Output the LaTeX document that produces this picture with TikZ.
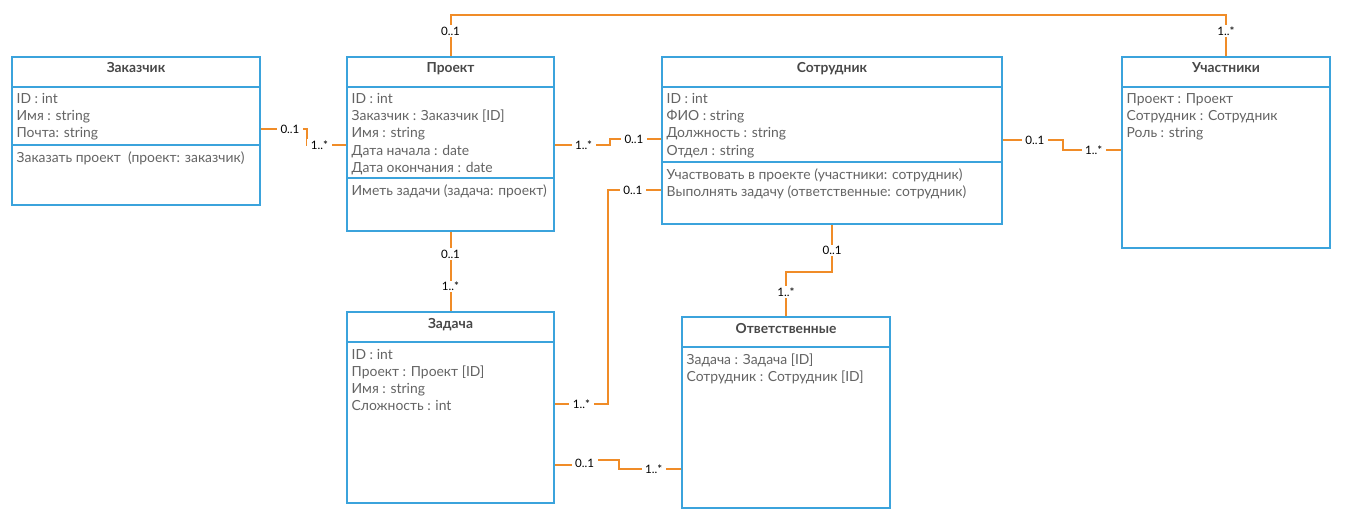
\documentclass[tikz,border=0pt]{standalone}
\usepackage{fontspec}
\setmainfont{Lato}
\definecolor{cblue}{RGB}{59,163,220}
\definecolor{corange}{RGB}{240,140,40}
\definecolor{ctext}{RGB}{100,100,100}
\definecolor{ctitle}{RGB}{72,72,72}
\newcommand\classlines[4]{%
  \foreach \t [count=\i] in {#4}
    \node[attr] (#3\i) at ([xshift=5.5pt,yshift={-(#2+17*(\i-1))*1pt}]#1.north west) {\t};}
\newcommand\classdiv[2]{%
  \draw[div] ([yshift=-#2pt]#1.north west) -- ([yshift=-#2pt]#1.north east);}
\tikzset{
  cls/.style={draw=cblue, line width=2pt, inner sep=0pt, anchor=north west, fill=white},
  div/.style={draw=cblue, line width=2pt},
  ttl/.style={anchor=base, font=\fontsize{13.8}{16}\selectfont\bfseries, text=ctitle, inner sep=0pt},
  attr/.style={anchor=base west, font=\fontsize{13.9}{16}\selectfont, text=ctext, inner sep=0pt},
  conn/.style={draw=corange, line width=2pt},
  mult/.style={fill=white, text=black, font=\fontsize{11.6}{13}\selectfont, inner xsep=3.5pt, inner ysep=1.5pt},
}
\begin{document}
\begin{tikzpicture}[x=1pt,y=-1pt]
\path[use as bounding box] (0,0) rectangle (1348,524);

% classes
\node[cls, minimum width=248, minimum height=148] (zak) at (11,56) {};
\node[cls, minimum width=207, minimum height=174] (proj) at (346,56) {};
\node[cls, minimum width=340, minimum height=167] (emp) at (661,56) {};
\node[cls, minimum width=208, minimum height=191] (part) at (1121,56) {};
\node[cls, minimum width=207, minimum height=191] (task) at (346,311) {};
\node[cls, minimum width=208, minimum height=191] (resp) at (681,316) {};

% dividers
\classdiv{zak}{31}\classdiv{zak}{89}
\classdiv{proj}{31}\classdiv{proj}{122}
\classdiv{emp}{31}\classdiv{emp}{106}
\classdiv{part}{31}
\classdiv{task}{31}
\classdiv{resp}{31}

% titles
\node[ttl] (zak-t) at ([yshift=-17pt]zak.north) {Заказчик};
\node[ttl] (proj-t) at ([yshift=-17pt]proj.north) {Проект};
\node[ttl] (emp-t) at ([yshift=-17pt]emp.north) {Сотрудник};
\node[ttl] (part-t) at ([yshift=-17pt]part.north) {Участники};
\node[ttl] (task-t) at ([yshift=-17pt]task.north) {Задача};
\node[ttl] (resp-t) at ([yshift=-17pt]resp.north) {Ответственные};

% attributes and operations
\classlines{zak}{48}{zak-a}{{ID : int},{Имя : string},{Почта: string}}
\classlines{zak}{106}{zak-m}{{Заказать проект\ \ (проект: заказчик)}}
\classlines{proj}{48}{proj-a}{{ID : int},{Заказчик : Заказчик [ID]},{Имя : string},{Дата начала : date},{Дата окончания : date}}
\classlines{proj}{139}{proj-m}{{Иметь задачи (задача: проект)}}
\classlines{emp}{48}{emp-a}{{ID : int},{ФИО : string},{Должность : string},{Отдел : string}}
\classlines{emp}{123}{emp-m}{{Участвовать в проекте (участники: сотрудник)},{Выполнять задачу (ответственные: сотрудник)}}
\classlines{part}{48}{part-a}{{Проект : Проект},{Сотрудник : Сотрудник},{Роль : string}}
\classlines{task}{48}{task-a}{{ID : int},{Проект : Проект [ID]},{Имя : string},{Сложность : int}}
\classlines{resp}{48}{resp-a}{{Задача : Задача [ID]},{Сотрудник : Сотрудник [ID]}}

% connectors
\draw[conn] ([yshift=-73pt]zak.north east) -- node[mult,pos=0.63]{0..1} ++(46,0) -- ++(0,16)
  -- node[mult,pos=0.32]{1..*} ([yshift=-89pt]proj.north west);
\draw[conn] ([yshift=-89pt]proj.north east) -- node[mult,pos=0.52]{1..*} ++(55,0) -- ++(0,-6)
  -- node[mult,pos=0.47]{0..1} ([yshift=-83pt]emp.north west);
\draw[conn] ([yshift=-134pt]emp.north west) -- node[mult,pos=0.53]{0..1} ++(-53,0)
  |- node[mult,pos=0.75]{1..*} ([yshift=-93pt]task.north east);
\draw[conn] (proj.north) -- node[mult,pos=0.61]{0..1} ++(0,-41)
  -| node[mult,pos=0.695]{1..*} (part.north);
\draw[conn] ([yshift=-84pt]emp.north east) -- node[mult,pos=0.53]{0..1} ++(60,0) -- ++(0,10)
  -- node[mult,pos=0.53]{1..*} ([yshift=-94pt]part.north west);
\draw[conn] (proj.south) -- node[mult,pos=0.28]{0..1} node[mult,pos=0.69]{1..*} (task.north);
\draw[conn] (emp.south) -- node[mult,pos=0.54]{0..1} ++(0,47)
  -| node[mult,pos=0.73]{1..*} (resp.north);
\draw[conn] ([yshift=-154pt]task.north east) -- ++(37,0) -- ++(0,-5) -- ++(27,0) -- ++(0,9)
  -- node[mult,pos=0.56]{1..*} ([yshift=-153pt]resp.north west);
\node[mult] (m8a) at ([xshift=29.7pt,yshift=-152pt]task.north east) {0..1};
\end{tikzpicture}
\end{document}
